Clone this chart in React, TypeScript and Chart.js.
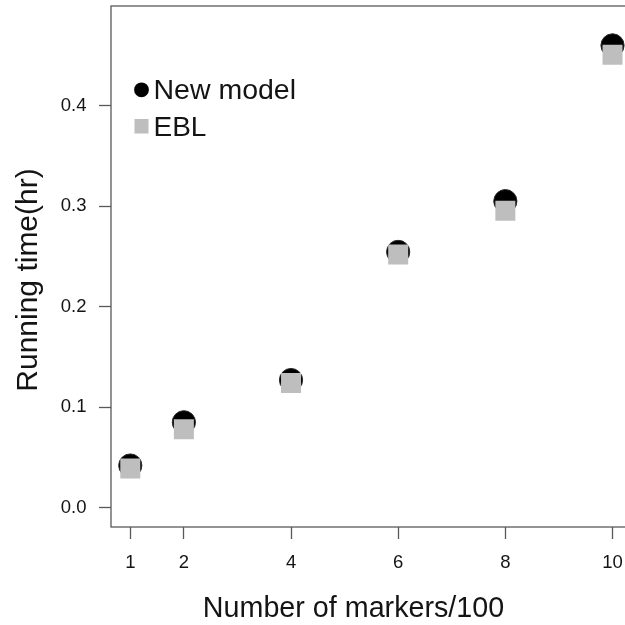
import { useEffect, useRef } from 'react';
import { Chart, registerables } from 'chart.js';

Chart.register(...registerables);

// Running time versus number of markers (in hundreds)
const markerCounts = [1, 2, 4, 6, 8, 10];
const newModelHours = [0.042, 0.085, 0.127, 0.2545, 0.305, 0.46];
const eblHours = [0.039, 0.078, 0.124, 0.252, 0.2955, 0.4507];

const xTickValues = [1, 2, 4, 6, 8, 10];
const yTickValues = [0, 0.1, 0.2, 0.3, 0.4];
const seriesNames = ['New model', 'EBL'];
const xTitle = 'Number of markers/100';
const yTitle = 'Running time(hr)';

const FONT = "'Liberation Sans', Arial, Helvetica, sans-serif";
const AXIS_COLOR = '#595959';
const TEXT_COLOR = '#141414';
const EBL_GREY = '#bebebe';

// Plot box, axis titles and the in-plot legend
const frameAndLegend = {
  id: 'frameAndLegend',
  afterDatasetsDraw(chart: any) {
    const { ctx, chartArea: a } = chart;
    ctx.save();
    ctx.strokeStyle = AXIS_COLOR;
    ctx.lineWidth = 1.3;
    ctx.strokeRect(a.left, a.top, a.right - a.left, a.bottom - a.top);

    // legend symbols
    const symX = a.left + 30.5;
    ctx.fillStyle = '#000';
    ctx.beginPath();
    ctx.arc(symX, a.top + 83.8, 7.4, 0, Math.PI * 2);
    ctx.fill();
    ctx.fillStyle = EBL_GREY;
    ctx.fillRect(symX - 7, a.top + 113, 14, 14.5);

    // legend labels
    ctx.fillStyle = TEXT_COLOR;
    ctx.textAlign = 'left';
    ctx.textBaseline = 'alphabetic';
    ctx.font = `28.5px ${FONT}`;
    ctx.fillText(seriesNames[0], a.left + 42.5, a.top + 93);
    ctx.font = `28px ${FONT}`;
    ctx.fillText(seriesNames[1], a.left + 42.5, a.top + 129.5);

    // x-axis title
    ctx.font = `28.7px ${FONT}`;
    ctx.textAlign = 'center';
    ctx.fillText(xTitle, 353.5, 617);

    // y-axis title, reading upwards
    ctx.translate(36.5, 280);
    ctx.rotate(-Math.PI / 2);
    ctx.font = `30px ${FONT}`;
    ctx.fillText(yTitle, 0, 0);
    ctx.restore();
  },
};

export default function App() {
  const canvasRef = useRef<HTMLCanvasElement | null>(null);

  useEffect(() => {
    if (!canvasRef.current) return;
    const chart = new Chart(canvasRef.current, {
      type: 'scatter',
      data: {
        datasets: [
          {
            label: seriesNames[0],
            data: markerCounts.map((x, i) => ({ x, y: newModelHours[i] })),
            pointStyle: 'circle',
            pointRadius: 11.6,
            pointBackgroundColor: '#000',
            pointBorderColor: '#2a2a2a',
            pointBorderWidth: 1,
            order: 2,
          },
          {
            label: seriesNames[1],
            data: markerCounts.map((x, i) => ({ x, y: eblHours[i] })),
            pointStyle: 'rect',
            pointRadius: 14.14,
            pointBackgroundColor: EBL_GREY,
            pointBorderWidth: 0,
            order: 1,
          },
        ],
      },
      options: {
        responsive: false,
        animation: false,
        events: [],
        layout: { autoPadding: false, padding: { top: 6, right: 8.2, left: 0, bottom: 0 } },
        plugins: {
          legend: { display: false },
          tooltip: { enabled: false },
        },
        scales: {
          x: {
            type: 'linear',
            min: 0.64,
            max: 10.36,
            afterBuildTicks: (scale: any) => {
              scale.ticks = xTickValues.map((value) => ({ value }));
            },
            afterFit: (scale: any) => {
              scale.height = 98;
              scale.paddingLeft = 0;
              scale.paddingRight = 0;
            },
            border: { display: false },
            grid: {
              drawOnChartArea: false,
              drawTicks: true,
              tickLength: 12,
              tickColor: AXIS_COLOR,
              tickWidth: 1.3,
            },
            ticks: {
              padding: 13,
              color: TEXT_COLOR,
              font: { family: FONT, size: 18.5 },
              maxRotation: 0,
              autoSkip: false,
              callback: (v: any) => String(v),
            },
          },
          y: {
            type: 'linear',
            min: -0.0192,
            max: 0.4992,
            afterBuildTicks: (scale: any) => {
              scale.ticks = yTickValues.map((value) => ({ value }));
            },
            afterFit: (scale: any) => {
              scale.width = 111;
              scale.paddingTop = 0;
              scale.paddingBottom = 0;
            },
            border: { display: false },
            grid: {
              drawOnChartArea: false,
              drawTicks: true,
              tickLength: 12,
              tickColor: AXIS_COLOR,
              tickWidth: 1.3,
            },
            ticks: {
              padding: 12.5,
              color: TEXT_COLOR,
              font: { family: FONT, size: 18.5 },
              autoSkip: false,
              callback: (v: any) => Number(v).toFixed(1),
            },
          },
        },
      },
      plugins: [frameAndLegend],
    });
    return () => chart.destroy();
  }, []);

  return (
    <div
      style={{
        position: 'fixed',
        left: 0,
        top: 0,
        width: 625,
        height: 625,
        overflow: 'hidden',
        background: '#fff',
      }}
    >
      <canvas ref={canvasRef} width={640} height={625} style={{ display: 'block' }} />
    </div>
  );
}
